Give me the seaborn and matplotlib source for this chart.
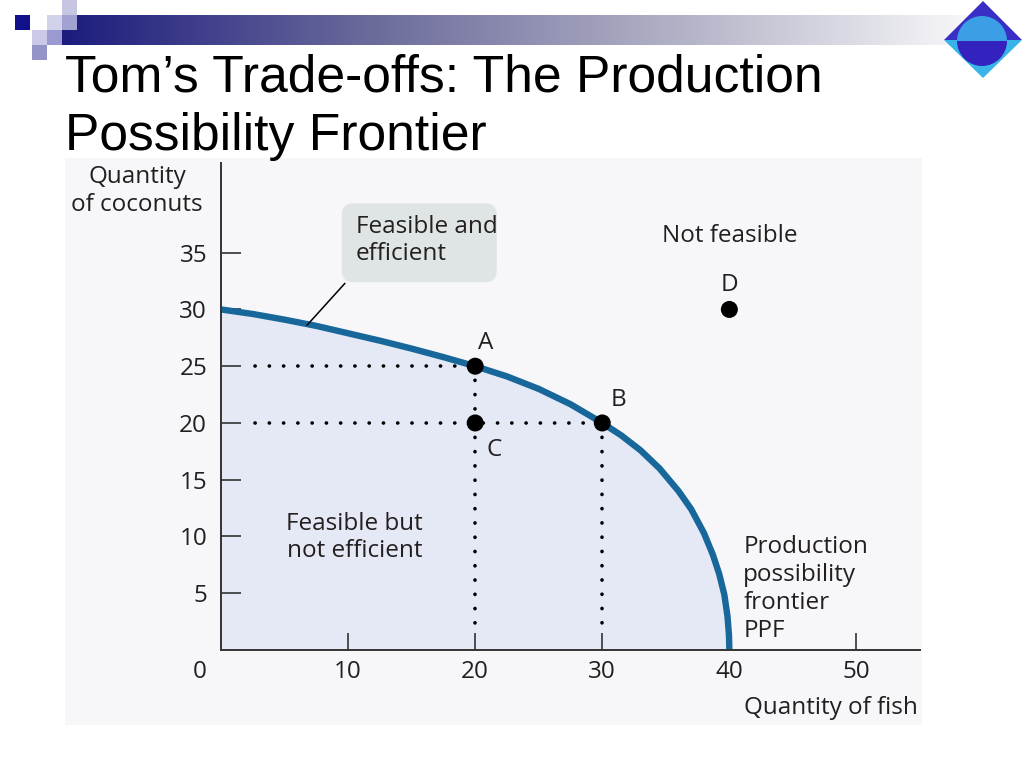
import numpy as np
import pandas as pd
import matplotlib
matplotlib.use("Agg")
import matplotlib.pyplot as plt
import seaborn as sns
from matplotlib.patches import Rectangle, FancyBboxPatch, Polygon, Wedge
from matplotlib.colors import LinearSegmentedColormap

# ---------------- data ----------------
fish = [0, 2.5, 5, 7.5, 10, 12.5, 15, 17.5, 20, 22.5, 25, 27.5, 30, 31.5, 33, 34.5,
        36, 37, 38, 38.7, 39.2, 39.6, 39.85, 39.97, 40]
coconuts = [30, 29.6, 29.1, 28.55, 27.9, 27.25, 26.55, 25.8, 25, 24.1, 23.0, 21.65, 20,
            18.9, 17.6, 16.0, 14.0, 12.4, 10.3, 8.4, 6.7, 4.9, 3.0, 1.3, 0]

point_labels = ["A", "B", "C", "D"]
point_fish = [20, 30, 20, 40]
point_coconuts = [25, 20, 20, 30]

x_ticks = [10, 20, 30, 40, 50]
y_ticks = [5, 10, 15, 20, 25, 30, 35]

title_lines = ["Tom\u2019s Trade-offs: The Production", "Possibility Frontier"]

# ---------------- style ----------------
sns.set_theme(style="white")
plt.rcParams["font.family"] = ["Open Sans", "DejaVu Sans"]
TXT = "#231f20"
FS = 17.5

W, H = 1024, 768
fig = plt.figure(figsize=(10.24, 7.68), dpi=100)
fig.patch.set_facecolor("white")

# decoration layer in pixel coordinates
deco = fig.add_axes([0, 0, 1, 1], zorder=0)
deco.set_xlim(0, W)
deco.set_ylim(H, 0)
deco.axis("off")

# chart panel background
deco.add_patch(Rectangle((65, 158), 857, 567, facecolor="#f7f7f9", edgecolor="none"))

# gradient bar
cmap = LinearSegmentedColormap.from_list("bar", ["#1c1c7e", "#6c6c9c", "#b4b4c8", "#ffffff"])
grad = np.linspace(0, 1, 512).reshape(1, -1)
deco.imshow(grad, cmap=cmap, aspect="auto", extent=(62, 1000, 45, 15), zorder=1)

# squares
sq = [((15, 15), "#10108a"), ((62, 0), "#c6c6e2"), ((47, 15), "#d2d2ea"),
      ((62, 15), "#a2a2d2"), ((32, 30), "#cacae8"), ((47, 30), "#9a9ad0"),
      ((32, 45), "#9494c8")]
for (x0, y0), c in sq:
    deco.add_patch(Rectangle((x0, y0), 15, 15, facecolor=c, edgecolor="none", zorder=2))

# logo
deco.add_patch(Polygon([(983, 1), (1022, 40), (944, 40)], closed=True,
                       facecolor="#3a2fc4", edgecolor="none", zorder=2))
deco.add_patch(Polygon([(944, 40), (1022, 40), (983, 78)], closed=True,
                       facecolor="#38b4e8", edgecolor="none", zorder=2))
deco.add_patch(Wedge((982, 41), 25, 180, 360, facecolor="#3c9fe6", edgecolor="none", zorder=3))
deco.add_patch(Wedge((982, 41), 25, 0, 180, facecolor="#3422bf", edgecolor="none", zorder=3))

# title
fig.text(65 / W, 1 - 92 / H, title_lines[0], family=["Liberation Sans", "DejaVu Sans"],
         fontsize=37.2, color="black", ha="left", va="baseline")
fig.text(65 / W, 1 - 150 / H, title_lines[1], family=["Liberation Sans", "DejaVu Sans"],
         fontsize=37.2, color="black", ha="left", va="baseline")

# ---------------- main axes ----------------
ax = fig.add_axes([221 / W, 1 - 650 / H, (920 - 221) / W, (650 - 163) / H], zorder=1)
ax.set_facecolor("none")
ax.set_axisbelow(False)
ax.set_xlim(0, 55)
ax.set_ylim(0, 42.9)

ax.fill_between(fish, coconuts, 0, color="#e5e8f5", linewidth=0, zorder=1)
sns.lineplot(x=fish, y=coconuts, ax=ax, color="#17679b", linewidth=4.6,
             estimator=None, sort=False, zorder=3, solid_capstyle="butt",
             solid_joinstyle="round")

# dotted guide lines
dot_kw = dict(color="black", linewidth=2.6, linestyle=(0, (0.05, 3.9)),
              dash_capstyle="round", zorder=2)
x_start = 2.7
y_end = 1.5
ax.plot([x_start, point_fish[0]], [point_coconuts[0]] * 2, **dot_kw)
ax.plot([x_start, point_fish[1]], [point_coconuts[1]] * 2, **dot_kw)
ax.plot([point_fish[0]] * 2, [point_coconuts[0], y_end], **dot_kw)
ax.plot([point_fish[1]] * 2, [point_coconuts[1], y_end], **dot_kw)

pts = pd.DataFrame({"fish": point_fish, "coconuts": point_coconuts, "label": point_labels})
sns.scatterplot(data=pts, x="fish", y="coconuts", ax=ax, color="black", s=150,
                edgecolor="none", zorder=5, legend=False)
offsets = {"A": (7.5, 16.5), "B": (11.5, 16.5), "C": (14, -19.5), "D": (0, 17.5)}
for lab, xv, yv in zip(point_labels, point_fish, point_coconuts):
    ax.annotate(lab, (xv, yv), xytext=offsets[lab], textcoords="offset points",
                ha="center", va="center", fontsize=FS, color=TXT, zorder=6)

# region labels
ax.text(40.0, 36.5, "Not feasible", ha="center", va="center", fontsize=FS, color=TXT)
ax.text(10.5, 9.9, "Feasible but\nnot efficient", ha="center", va="center",
        fontsize=FS, color=TXT, linespacing=1.2)
ax.text(41.1, 5.35, "Production\npossibility\nfrontier\nPPF", ha="left", va="center",
        fontsize=FS, color=TXT, linespacing=1.22)

# callout box
ax.add_patch(FancyBboxPatch((9.5, 32.4), 12.2, 6.95,
                            boxstyle="round,pad=0,rounding_size=0.9",
                            mutation_aspect=12.72 / 11.36,
                            facecolor="#dfe5e4", edgecolor="none", zorder=2))
ax.text(10.6, 36.1, "Feasible and\nefficient", ha="left", va="center", fontsize=FS,
        color=TXT, linespacing=1.18, zorder=3)
ax.plot([9.75, 6.76], [32.3, 28.6], color="black", linewidth=1.1, zorder=4)

# axes styling
for side in ["top", "right"]:
    ax.spines[side].set_visible(False)
for side in ["left", "bottom"]:
    ax.spines[side].set_color("#333333")
    ax.spines[side].set_linewidth(1.4)
    ax.spines[side].set_zorder(4)

ax.set_xticks(x_ticks)
ax.set_xticklabels([str(v) for v in x_ticks])
ax.set_yticks(y_ticks)
ax.set_yticklabels([str(v) for v in y_ticks])
ax.tick_params(axis="x", direction="in", length=12.5, width=1.2, color="#333333",
               pad=7, labelsize=FS, labelcolor=TXT, bottom=True)
ax.tick_params(axis="y", direction="in", length=14.5, width=1.2, color="#333333",
               pad=10, labelsize=FS, labelcolor=TXT, left=True)
ax.set_xlabel("")
ax.set_ylabel("")

# axis titles and origin label
fig.text(137 / W, 1 - 191 / H, "Quantity\nof coconuts", ha="center", va="center",
         fontsize=FS, color=TXT, linespacing=1.18)
fig.text(918 / W, 1 - 708 / H, "Quantity of fish", ha="right", va="center",
         fontsize=FS, color=TXT)
fig.text(200 / W, 1 - 672 / H, "0", ha="center", va="center", fontsize=FS, color=TXT)

fig.savefig("out.png", dpi=100)
